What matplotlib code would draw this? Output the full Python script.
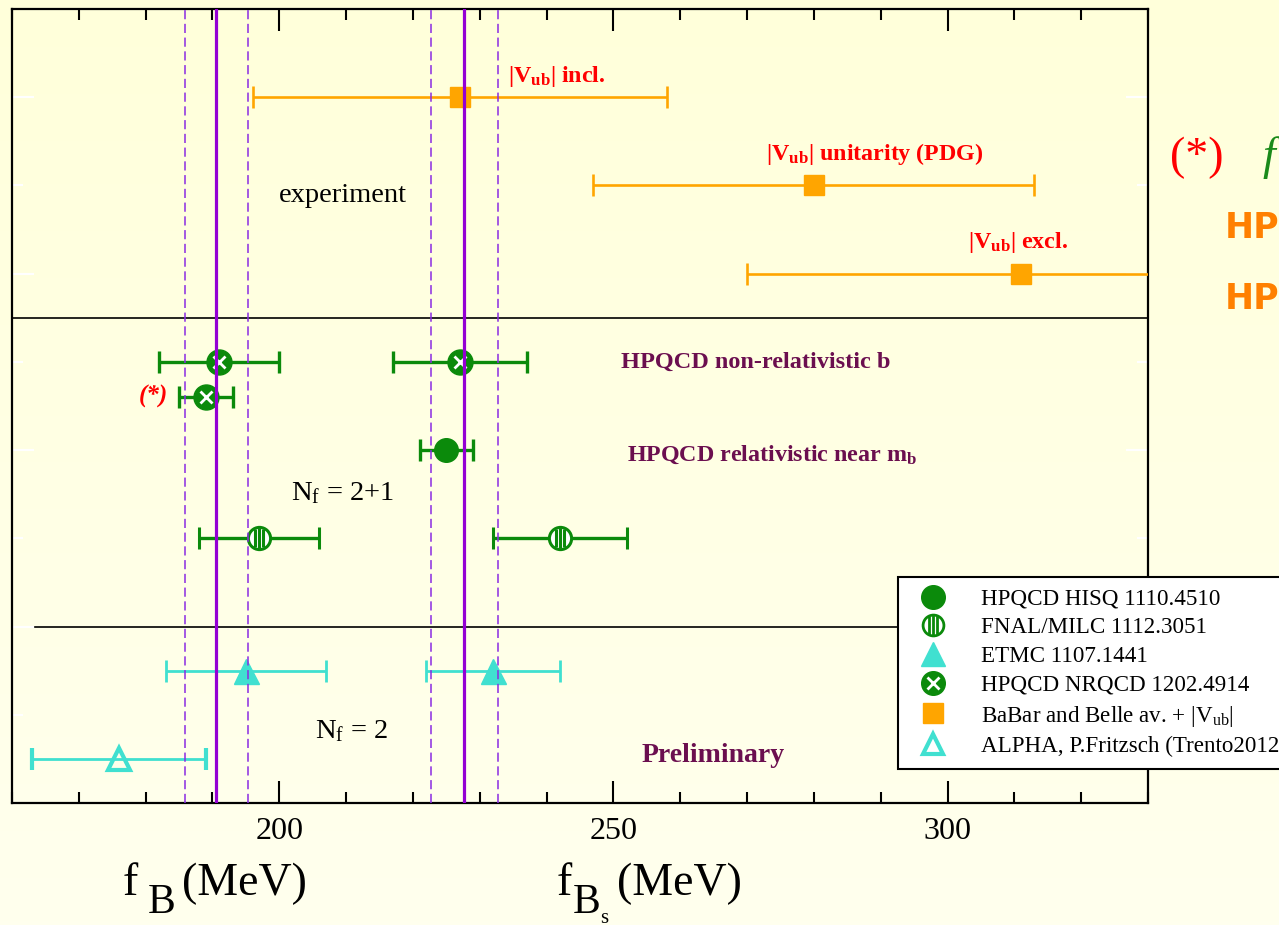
import matplotlib.pyplot as plt
import numpy as np
from matplotlib.lines import Line2D
from matplotlib.path import Path
from matplotlib.colors import LinearSegmentedColormap

plt.rcParams['font.family'] = ['Liberation Serif', 'DejaVu Serif']
plt.rcParams['mathtext.fontset'] = 'custom'
plt.rcParams['mathtext.rm'] = 'Liberation Serif'
plt.rcParams['mathtext.bf'] = 'Liberation Serif:bold'
plt.rcParams['mathtext.it'] = 'Liberation Serif:italic'

# rows counted from the top, values in MeV
# BaBar and Belle av. + |Vub|
exp_rows = [1, 2, 3]
exp_val = [227, 280, 311]
exp_err = [31, 33, 41]
exp_labels = [r'|V$_{\mathbf{ub}}$| incl.', r'|V$_{\mathbf{ub}}$| unitarity (PDG)',
              r'|V$_{\mathbf{ub}}$| excl.']

# HPQCD NRQCD 1202.4914 (fB, fBs, fB(*))
nrqcd_rows = [4.0, 4.0, 4.4]
nrqcd_val = [191, 227, 189]
nrqcd_err = [9, 10, 4]

# HPQCD HISQ 1110.4510 (fBs)
hisq_rows = [5.0]
hisq_val = [225]
hisq_err = [4]

# FNAL/MILC 1112.3051
fnal_rows = [6.0, 6.0]
fnal_val = [197, 242]
fnal_err = [9, 10]

# ETMC 1107.1441
etmc_rows = [7.5, 7.5]
etmc_val = [195, 232]
etmc_err = [12, 10]

# ALPHA, P.Fritzsch (Trento2012)
alpha_rows = [8.5]
alpha_val = [176]
alpha_err = [13]

# averages: central value, error
avg_fB = (190.6, 4.7)
avg_fBs = (227.7, 5.0)

separators = [3.5, 7.0]

legend_labels = ['HPQCD HISQ 1110.4510', 'FNAL/MILC 1112.3051', 'ETMC 1107.1441',
                 'HPQCD NRQCD 1202.4914', r'BaBar and Belle av. + |V$_{\rm ub}$|',
                 'ALPHA, P.Fritzsch (Trento2012)']

green = '#0b8a0b'
orange = '#ffa500'
cyan = '#40e0d0'
purple = '#9400d3'
dpurple = '#8a2be2'
wine = '#6b0f4f'
red = '#ff0000'

fig = plt.figure(figsize=(12.79, 9.25), dpi=100)

# slide background (light yellow, slightly lighter towards the bottom)
bg = fig.add_axes([0, 0, 1, 1], zorder=-10)
grad = np.linspace(0, 1, 256).reshape(-1, 1)
cmap = LinearSegmentedColormap.from_list('bg', ['#ffffda', '#ffffee'])
bg.imshow(grad, aspect='auto', cmap=cmap, extent=[0, 1, 0, 1], origin='upper')
bg.axis('off')

ax = fig.add_axes([12 / 1279, 1 - 803 / 925, 1136 / 1279, 794 / 925])
ax.patch.set_alpha(0)
ax.set_xlim(160, 330)
ax.set_ylim(9, 0)

for s in separators:
    xmin = 0 if s < 5 else 0.02
    ax.axhline(s, xmin=xmin, color='black', lw=1.2, zorder=2)

eb = dict(elinewidth=2.4, capsize=8, capthick=2.4, zorder=3)

ax.errorbar(exp_val, exp_rows, xerr=exp_err, fmt='s', ms=15, color=orange,
            elinewidth=1.9, capsize=8, capthick=1.9, zorder=3)
ax.errorbar(nrqcd_val, nrqcd_rows, xerr=nrqcd_err, fmt='o', ms=18, color=green, **eb)
ax.plot(nrqcd_val, nrqcd_rows, 'x', color='white', ms=9, mew=2.0, ls='none', zorder=4)
ax.errorbar(hisq_val, hisq_rows, xerr=hisq_err, fmt='o', ms=17, color=green, **eb)

stripes = Path([(-0.4, -0.9), (-0.4, 0.9), (0, -1), (0, 1), (0.4, -0.9), (0.4, 0.9)],
               [Path.MOVETO, Path.LINETO] * 3)
ax.errorbar(fnal_val, fnal_rows, xerr=fnal_err, fmt='o', ms=16, mfc='white', mec=green,
            mew=2.2, color=green, **eb)
ax.plot(fnal_val, fnal_rows, marker=stripes, ms=15, mfc='none', mec=green, mew=2.2,
        ls='none', zorder=4)

ax.errorbar(etmc_val, etmc_rows, xerr=etmc_err, fmt='^', ms=18, color=cyan,
            elinewidth=2.0, capsize=8, capthick=2.0, zorder=3)
ax.errorbar(alpha_val, alpha_rows, xerr=alpha_err, fmt='^', ms=16, mfc='none', mec=cyan,
            mew=3, color=cyan, elinewidth=2.0, capsize=8, capthick=2.0, zorder=3)

# averages
for c, e in [avg_fB, avg_fBs]:
    ax.axvline(c, color=purple, lw=2.3, zorder=5)
    for d in (c - e, c + e):
        ax.axvline(d, color=dpurple, lw=1.1, ls=(0, (6, 3)), zorder=5)

# labels in the plot
label_x = [234.3, 272.9, 303.0]
label_y = [0.83, 1.71, 2.71]
for t, lx, ly in zip(exp_labels, label_x, label_y):
    ax.text(lx, ly, t, color=red, fontsize=17.3, fontweight='bold', va='baseline')
ax.text(209.5, 2.11, 'experiment', fontsize=20.5, ha='center', va='center')
ax.text(251.2, 4.07, 'HPQCD non-relativistic b', color=wine, fontsize=17.5,
        fontweight='bold', va='baseline')
ax.text(252.0, 5.115, r'HPQCD relativistic near m$_{\mathbf{b}}$', color=wine,
        fontsize=17.3, fontweight='bold', va='baseline')
ax.text(201.7, 5.57, r'N$_{\rm f}$ = 2+1', fontsize=20.5, va='baseline')
ax.text(205.3, 8.26, r'N$_{\rm f}$ = 2', fontsize=20.5, va='baseline')
ax.text(254.2, 8.54, 'Preliminary', color=wine, fontsize=20, fontweight='bold',
        va='baseline')
ax.text(183.3, 4.39, '(*)', color=red, fontsize=18, fontweight='bold', style='italic',
        ha='right', va='center')

# ticks
ax.set_xticks([200, 250, 300])
ax.set_xticks(np.arange(160, 331, 10), minor=True)
ax.tick_params(axis='x', which='both', direction='in', top=True, bottom=True,
               width=1.5, color='black', labelsize=23, pad=10)
ax.tick_params(axis='x', which='major', length=16)
ax.tick_params(axis='x', which='minor', length=8)
ax.set_yticks([1, 3, 5, 7, 9])
ax.set_yticks([2, 4, 6, 8], minor=True)
ax.tick_params(axis='y', which='both', direction='in', left=True, right=True,
               color='white', width=1.5, labelleft=False)
ax.tick_params(axis='y', which='major', length=16)
ax.tick_params(axis='y', which='minor', length=8)
for sp in ax.spines.values():
    sp.set_linewidth(1.6)

# axis titles
fig.text(123 / 1279, 1 - 895 / 925, 'f', fontsize=33, va='baseline')
fig.text(148 / 1279, 1 - 913 / 925, 'B', fontsize=30, va='baseline')
fig.text(182 / 1279, 1 - 895 / 925, '(MeV)', fontsize=33, va='baseline')
fig.text(557 / 1279, 1 - 895 / 925, 'f', fontsize=33, va='baseline')
fig.text(573 / 1279, 1 - 913 / 925, 'B', fontsize=30, va='baseline')
fig.text(600 / 1279, 1 - 923 / 925, 's', fontsize=15, va='baseline')
fig.text(617 / 1279, 1 - 895 / 925, '(MeV)', fontsize=33, va='baseline')

# slide text cut by the right edge
fig.text(1170 / 1279, 1 - 158 / 925, '(*)', color=red, fontsize=33, va='center')
fig.text(1262 / 1279, 1 - 158 / 925, 'f', color='#1a8a1a', fontsize=33,
         style='italic', va='center')
fig.text(1225 / 1279, 1 - 228 / 925, 'HP', color='#ff8000', fontsize=25,
         fontweight='bold', family='DejaVu Sans', va='center')
fig.text(1225 / 1279, 1 - 299 / 925, 'HP', color='#ff8000', fontsize=25,
         fontweight='bold', family='DejaVu Sans', va='center')

# legend
handles = [
    Line2D([], [], marker='o', ms=17, color=green, ls='none'),
    (Line2D([], [], marker='o', ms=15, mfc='white', mec=green, mew=2, ls='none'),
     Line2D([], [], marker=stripes, ms=14, mfc='none', mec=green, mew=2, ls='none')),
    Line2D([], [], marker='^', ms=17, color=cyan, ls='none'),
    (Line2D([], [], marker='o', ms=17, color=green, ls='none'),
     Line2D([], [], marker='x', ms=8, color='white', mew=2, ls='none')),
    Line2D([], [], marker='s', ms=15, color=orange, ls='none'),
    Line2D([], [], marker='^', ms=15, mfc='none', mec=cyan, mew=3, ls='none'),
]
leg = fig.legend(handles, legend_labels, loc='upper left',
                 bbox_to_anchor=(898 / 1279, 1 - 577 / 925),
                 bbox_transform=fig.transFigure, borderaxespad=0, fontsize=16.6,
                 frameon=True, fancybox=False, edgecolor='black', facecolor='white',
                 framealpha=1, labelspacing=0.33, handletextpad=1.1, borderpad=0.5)
leg.get_frame().set_linewidth(1.5)
leg.set_zorder(20)

fig.savefig('out.png', dpi=100)
